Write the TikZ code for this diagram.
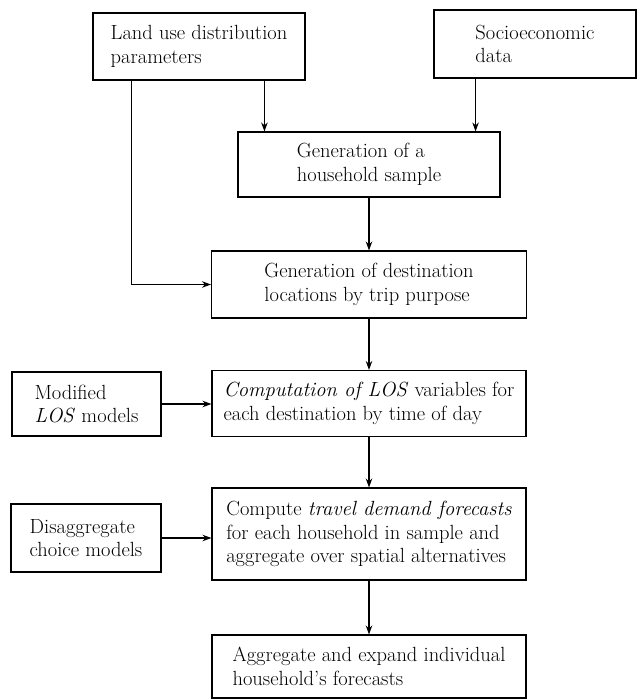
\documentclass[tikz,border=0pt]{standalone}
\usetikzlibrary{arrows.meta}

\begin{document}
\begin{tikzpicture}[x=1pt,y=-1pt,
    box/.style={draw,line width=1.1pt,rectangle,align=left,inner sep=2pt,
      font=\fontsize{20.5}{23.5}\selectfont},
    arr/.style={line width=1.1pt,-{Stealth[length=9pt,width=6.5pt]}}]
  \useasboundingbox (0,0) rectangle (637,700);
  % input boxes
  \node[box,minimum width=212,minimum height=67] (land) at (199,46.5) {Land use distribution\\parameters};
  \node[box,minimum width=202,minimum height=68] (socio) at (535,44) {Socioeconomic\\data};
  \node[box,minimum width=149,minimum height=64] (mod) at (86.5,404) {Modified\\\textit{LOS} models};
  \node[box,minimum width=150,minimum height=68] (dis) at (86,538) {Disaggregate\\choice models};
  % main column
  \node[box,minimum width=262,minimum height=65] (hh) at (369,164.5) {Generation of a\\household sample};
  \node[box,minimum width=315,minimum height=67] (dest) at (369,284.5) {Generation of destination\\locations by trip purpose};
  \node[box,minimum width=314,minimum height=66] (los) at (369,403.5) {\textit{Computation of LOS} variables for\\each destination by time of day};
  \node[box,minimum width=314,minimum height=92] (comp) at (369,534) {Compute \textit{travel demand forecasts}\\for each household in sample and\\aggregate over spatial alternatives};
  \node[box,minimum width=314,minimum height=63] (final) at (369,666.5) {Aggregate and expand individual\\household's forecasts};
  % connectors
  \draw[arr] ([xshift=27]hh.north west |- land.south) -- ([xshift=27]hh.north west);
  \draw[arr] ([xshift=-25]hh.north east |- socio.south) -- ([xshift=-25]hh.north east);
  \draw[arr] ([xshift=39]land.south west) |- (dest.west);
  \draw[arr] (hh) -- (dest);
  \draw[arr] (dest) -- (los);
  \draw[arr] (los) -- (comp);
  \draw[arr] (comp) -- (final);
  \draw[arr] (mod.east) -- (mod.east -| los.west);
  \draw[arr] (dis.east) -- (dis.east -| comp.west);
\end{tikzpicture}
\end{document}
